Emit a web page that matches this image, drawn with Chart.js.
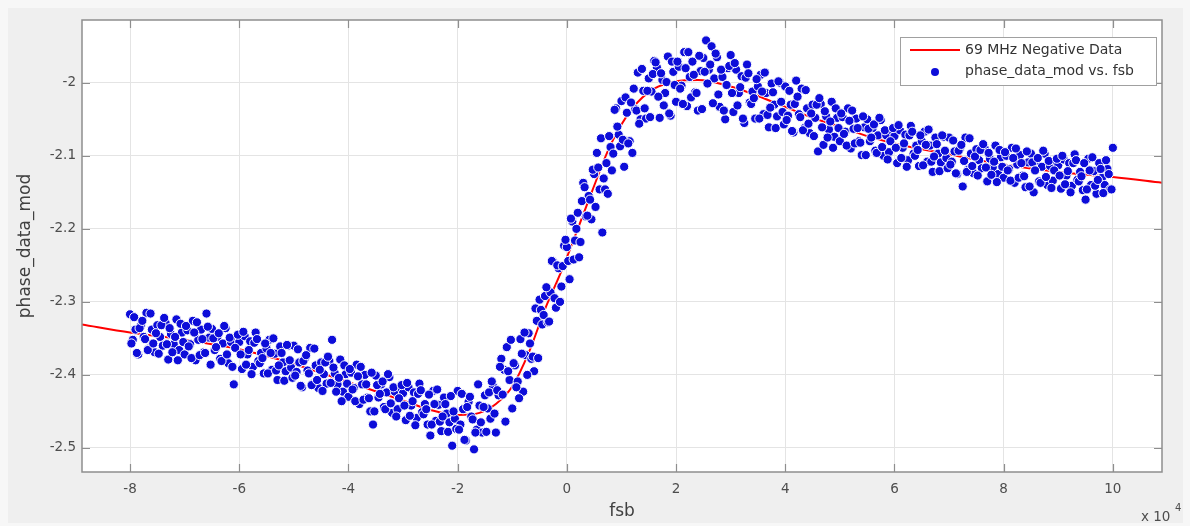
<!DOCTYPE html>
<html lang="en">
<head>
  <meta charset="UTF-8">
  <title>phase_data_mod vs. fsb</title>
  <script src="https://cdn.jsdelivr.net/npm/chart.js"></script>
  <style>
    * { box-sizing: border-box; margin: 0; padding: 0; }
    body { background: #f7f7f7; width: 1190px; height: 526px; overflow: hidden; }
    .wrap { position: relative; width: 1190px; height: 526px; }
  </style>
</head>
<body>
  <div class="wrap"><canvas id="plot"></canvas></div>
  <script>
    // fsb in units of 10^4 (axis shows "x 10^4"), sweep A
    const fsb = [
      -8, -7.95, -7.9, -7.85, -7.8, -7.75, -7.7, -7.65, -7.6, -7.55, -7.5, -7.45, -7.4, -7.35, -7.3, -7.25, -7.2, -7.15, -7.1, -7.05,
      -7, -6.95, -6.9, -6.85, -6.8, -6.75, -6.7, -6.65, -6.6, -6.55, -6.5, -6.45, -6.4, -6.35, -6.3, -6.25, -6.2, -6.15, -6.1, -6.05,
      -6, -5.95, -5.9, -5.85, -5.8, -5.75, -5.7, -5.65, -5.6, -5.55, -5.5, -5.45, -5.4, -5.35, -5.3, -5.25, -5.2, -5.15, -5.1, -5.05,
      -5, -4.95, -4.9, -4.85, -4.8, -4.75, -4.7, -4.65, -4.6, -4.55, -4.5, -4.45, -4.4, -4.35, -4.3, -4.25, -4.2, -4.15, -4.1, -4.05,
      -4, -3.95, -3.9, -3.85, -3.8, -3.75, -3.7, -3.65, -3.6, -3.55, -3.5, -3.45, -3.4, -3.35, -3.3, -3.25, -3.2, -3.15, -3.1, -3.05,
      -3, -2.95, -2.9, -2.85, -2.8, -2.75, -2.7, -2.65, -2.6, -2.55, -2.5, -2.45, -2.4, -2.35, -2.3, -2.25, -2.2, -2.15, -2.1, -2.05,
      -2, -1.95, -1.9, -1.85, -1.8, -1.75, -1.7, -1.65, -1.6, -1.55, -1.5, -1.45, -1.4, -1.35, -1.3, -1.25, -1.2, -1.15, -1.1, -1.05,
      -1, -0.95, -0.9, -0.85, -0.8, -0.75, -0.7, -0.65, -0.6, -0.55, -0.5, -0.45, -0.4, -0.35, -0.3, -0.25, -0.2, -0.15, -0.1, -0.05,
      0, 0.05, 0.1, 0.15, 0.2, 0.25, 0.3, 0.35, 0.4, 0.45, 0.5, 0.55, 0.6, 0.65, 0.7, 0.75, 0.8, 0.85, 0.9, 0.95,
      1, 1.05, 1.1, 1.15, 1.2, 1.25, 1.3, 1.35, 1.4, 1.45, 1.5, 1.55, 1.6, 1.65, 1.7, 1.75, 1.8, 1.85, 1.9, 1.95,
      2, 2.05, 2.1, 2.15, 2.2, 2.25, 2.3, 2.35, 2.4, 2.45, 2.5, 2.55, 2.6, 2.65, 2.7, 2.75, 2.8, 2.85, 2.9, 2.95,
      3, 3.05, 3.1, 3.15, 3.2, 3.25, 3.3, 3.35, 3.4, 3.45, 3.5, 3.55, 3.6, 3.65, 3.7, 3.75, 3.8, 3.85, 3.9, 3.95,
      4, 4.05, 4.1, 4.15, 4.2, 4.25, 4.3, 4.35, 4.4, 4.45, 4.5, 4.55, 4.6, 4.65, 4.7, 4.75, 4.8, 4.85, 4.9, 4.95,
      5, 5.05, 5.1, 5.15, 5.2, 5.25, 5.3, 5.35, 5.4, 5.45, 5.5, 5.55, 5.6, 5.65, 5.7, 5.75, 5.8, 5.85, 5.9, 5.95,
      6, 6.05, 6.1, 6.15, 6.2, 6.25, 6.3, 6.35, 6.4, 6.45, 6.5, 6.55, 6.6, 6.65, 6.7, 6.75, 6.8, 6.85, 6.9, 6.95,
      7, 7.05, 7.1, 7.15, 7.2, 7.25, 7.3, 7.35, 7.4, 7.45, 7.5, 7.55, 7.6, 7.65, 7.7, 7.75, 7.8, 7.85, 7.9, 7.95,
      8, 8.05, 8.1, 8.15, 8.2, 8.25, 8.3, 8.35, 8.4, 8.45, 8.5, 8.55, 8.6, 8.65, 8.7, 8.75, 8.8, 8.85, 8.9, 8.95,
      9, 9.05, 9.1, 9.15, 9.2, 9.25, 9.3, 9.35, 9.4, 9.45, 9.5, 9.55, 9.6, 9.65, 9.7, 9.75, 9.8, 9.85, 9.9, 9.95,
      10
    ];
    const phaseDataMod = [
      -2.317, -2.352, -2.338, -2.372, -2.332, -2.348, -2.315, -2.364, -2.338, -2.369, -2.332, -2.348, -2.360, -2.329, -2.379, -2.344, -2.358, -2.324, -2.366, -2.342,
      -2.372, -2.339, -2.358, -2.326, -2.380, -2.352, -2.338, -2.369, -2.316, -2.349, -2.337, -2.366, -2.348, -2.378, -2.357, -2.336, -2.384, -2.355, -2.413, -2.347,
      -2.355, -2.392, -2.347, -2.372, -2.354, -2.389, -2.342, -2.381, -2.370, -2.398, -2.364, -2.352, -2.393, -2.371, -2.407, -2.361, -2.383, -2.395, -2.360, -2.390,
      -2.360, -2.396, -2.383, -2.417, -2.378, -2.394, -2.363, -2.412, -2.387, -2.418, -2.383, -2.399, -2.412, -2.381, -2.352, -2.398, -2.413, -2.379, -2.423, -2.399,
      -2.430, -2.397, -2.418, -2.386, -2.440, -2.413, -2.400, -2.431, -2.450, -2.468, -2.401, -2.431, -2.413, -2.444, -2.424, -2.403, -2.452, -2.423, -2.447, -2.417,
      -2.425, -2.462, -2.417, -2.442, -2.424, -2.459, -2.412, -2.451, -2.440, -2.468, -2.483, -2.422, -2.463, -2.441, -2.477, -2.431, -2.453, -2.465, -2.497, -2.460,
      -2.422, -2.468, -2.447, -2.490, -2.437, -2.457, -2.502, -2.475, -2.442, -2.479, -2.428, -2.446, -2.460, -2.416, -2.479, -2.428, -2.378, -2.393, -2.362, -2.407,
      -2.446, -2.387, -2.409, -2.351, -2.423, -2.373, -2.343, -2.378, -2.395, -2.326, -2.297, -2.331, -2.292, -2.328, -2.287, -2.245, -2.308, -2.254, -2.279, -2.223,
      -2.225, -2.269, -2.190, -2.216, -2.178, -2.218, -2.137, -2.183, -2.155, -2.187, -2.125, -2.096, -2.146, -2.205, -2.146, -2.152, -2.088, -2.097, -2.035, -2.071,
      -2.025, -2.115, -2.041, -2.080, -2.096, -2.036, -1.986, -2.050, -2.011, -2.049, -1.994, -2.012, -1.970, -1.979, -2.048, -1.996, -2.014, -1.964, -2.045, -1.985,
      -2.026, -1.978, -2.004, -1.958, -2.032, -1.992, -1.971, -2.013, -2.038, -1.984, -1.966, -1.942, -1.982, -1.950, -1.994, -1.965, -2.033, -1.992, -2.050, -1.980,
      -1.962, -2.040, -1.982, -2.014, -1.991, -2.055, -1.975, -2.027, -2.012, -2.049, -2.005, -1.989, -2.043, -2.014, -2.061, -2.001, -2.030, -2.046, -2.000, -2.040,
      -2.005, -2.045, -2.030, -2.068, -1.997, -2.043, -2.008, -2.062, -2.035, -2.069, -2.030, -2.048, -2.094, -2.029, -2.085, -2.046, -2.064, -2.026, -2.074, -2.048,
      -2.080, -2.047, -2.067, -2.035, -2.090, -2.063, -2.049, -2.080, -2.099, -2.061, -2.050, -2.080, -2.062, -2.093, -2.072, -2.051, -2.100, -2.072, -2.095, -2.065,
      -2.073, -2.110, -2.065, -2.089, -2.071, -2.106, -2.059, -2.097, -2.086, -2.114, -2.080, -2.067, -2.108, -2.086, -2.122, -2.075, -2.097, -2.109, -2.074, -2.103,
      -2.075, -2.108, -2.094, -2.125, -2.090, -2.142, -2.075, -2.119, -2.097, -2.124, -2.091, -2.106, -2.117, -2.089, -2.135, -2.104, -2.116, -2.086, -2.125, -2.102,
      -2.130, -2.100, -2.118, -2.089, -2.137, -2.112, -2.099, -2.127, -2.143, -2.109, -2.097, -2.150, -2.107, -2.135, -2.115, -2.097, -2.140, -2.114, -2.134, -2.107,
      -2.113, -2.145, -2.105, -2.127, -2.110, -2.141, -2.098, -2.133, -2.122, -2.147, -2.160, -2.104, -2.140, -2.121, -2.152, -2.110, -2.130, -2.140, -2.118, -2.146,
      -2.089
    ];

    // sweep B, interleaved with sweep A
    const fsbB = [
      -7.975, -7.925, -7.875, -7.825, -7.775, -7.725, -7.675, -7.625, -7.575, -7.525, -7.475, -7.425, -7.375, -7.325, -7.275, -7.225, -7.175, -7.125, -7.075, -7.025,
      -6.975, -6.925, -6.875, -6.825, -6.775, -6.725, -6.675, -6.625, -6.575, -6.525, -6.475, -6.425, -6.375, -6.325, -6.275, -6.225, -6.175, -6.125, -6.075, -6.025,
      -5.975, -5.925, -5.875, -5.825, -5.775, -5.725, -5.675, -5.625, -5.575, -5.525, -5.475, -5.425, -5.375, -5.325, -5.275, -5.225, -5.175, -5.125, -5.075, -5.025,
      -4.975, -4.925, -4.875, -4.825, -4.775, -4.725, -4.675, -4.625, -4.575, -4.525, -4.475, -4.425, -4.375, -4.325, -4.275, -4.225, -4.175, -4.125, -4.075, -4.025,
      -3.975, -3.925, -3.875, -3.825, -3.775, -3.725, -3.675, -3.625, -3.575, -3.525, -3.475, -3.425, -3.375, -3.325, -3.275, -3.225, -3.175, -3.125, -3.075, -3.025,
      -2.975, -2.925, -2.875, -2.825, -2.775, -2.725, -2.675, -2.625, -2.575, -2.525, -2.475, -2.425, -2.375, -2.325, -2.275, -2.225, -2.175, -2.125, -2.075, -2.025,
      -1.975, -1.925, -1.875, -1.825, -1.775, -1.725, -1.675, -1.625, -1.575, -1.525, -1.475, -1.425, -1.375, -1.325, -1.275, -1.225, -1.175, -1.125, -1.075, -1.025,
      -0.975, -0.925, -0.875, -0.825, -0.775, -0.725, -0.675, -0.625, -0.575, -0.525, -0.475, -0.425, -0.375, -0.325, -0.275, -0.225, -0.175, -0.125, -0.075, -0.025,
      0.025, 0.075, 0.125, 0.175, 0.225, 0.275, 0.325, 0.375, 0.425, 0.475, 0.525, 0.575, 0.625, 0.675, 0.725, 0.775, 0.825, 0.875, 0.925, 0.975,
      1.025, 1.075, 1.125, 1.175, 1.225, 1.275, 1.325, 1.375, 1.425, 1.475, 1.525, 1.575, 1.625, 1.675, 1.725, 1.775, 1.825, 1.875, 1.925, 1.975,
      2.025, 2.075, 2.125, 2.175, 2.225, 2.275, 2.325, 2.375, 2.425, 2.475, 2.525, 2.575, 2.625, 2.675, 2.725, 2.775, 2.825, 2.875, 2.925, 2.975,
      3.025, 3.075, 3.125, 3.175, 3.225, 3.275, 3.325, 3.375, 3.425, 3.475, 3.525, 3.575, 3.625, 3.675, 3.725, 3.775, 3.825, 3.875, 3.925, 3.975,
      4.025, 4.075, 4.125, 4.175, 4.225, 4.275, 4.325, 4.375, 4.425, 4.475, 4.525, 4.575, 4.625, 4.675, 4.725, 4.775, 4.825, 4.875, 4.925, 4.975,
      5.025, 5.075, 5.125, 5.175, 5.225, 5.275, 5.325, 5.375, 5.425, 5.475, 5.525, 5.575, 5.625, 5.675, 5.725, 5.775, 5.825, 5.875, 5.925, 5.975,
      6.025, 6.075, 6.125, 6.175, 6.225, 6.275, 6.325, 6.375, 6.425, 6.475, 6.525, 6.575, 6.625, 6.675, 6.725, 6.775, 6.825, 6.875, 6.925, 6.975,
      7.025, 7.075, 7.125, 7.175, 7.225, 7.275, 7.325, 7.375, 7.425, 7.475, 7.525, 7.575, 7.625, 7.675, 7.725, 7.775, 7.825, 7.875, 7.925, 7.975,
      8.025, 8.075, 8.125, 8.175, 8.225, 8.275, 8.325, 8.375, 8.425, 8.475, 8.525, 8.575, 8.625, 8.675, 8.725, 8.775, 8.825, 8.875, 8.925, 8.975,
      9.025, 9.075, 9.125, 9.175, 9.225, 9.275, 9.325, 9.375, 9.425, 9.475, 9.525, 9.575, 9.625, 9.675, 9.725, 9.775, 9.825, 9.875, 9.925, 9.975
    ];
    const phaseDataModB = [
      -2.357, -2.321, -2.370, -2.336, -2.326, -2.351, -2.366, -2.316, -2.357, -2.343, -2.371, -2.332, -2.322, -2.358, -2.336, -2.369, -2.348, -2.380, -2.330, -2.355,
      -2.333, -2.361, -2.377, -2.342, -2.328, -2.373, -2.351, -2.370, -2.334, -2.386, -2.350, -2.362, -2.343, -2.381, -2.333, -2.372, -2.349, -2.389, -2.363, -2.345,
      -2.372, -2.341, -2.386, -2.366, -2.399, -2.356, -2.351, -2.384, -2.377, -2.357, -2.398, -2.370, -2.350, -2.394, -2.387, -2.370, -2.408, -2.359, -2.380, -2.404,
      -2.401, -2.365, -2.415, -2.381, -2.373, -2.398, -2.414, -2.364, -2.407, -2.393, -2.422, -2.383, -2.375, -2.411, -2.390, -2.423, -2.404, -2.436, -2.387, -2.412,
      -2.392, -2.420, -2.436, -2.402, -2.389, -2.434, -2.413, -2.432, -2.397, -2.450, -2.414, -2.426, -2.409, -2.447, -2.399, -2.439, -2.417, -2.457, -2.432, -2.414,
      -2.442, -2.411, -2.456, -2.436, -2.469, -2.426, -2.421, -2.454, -2.447, -2.427, -2.468, -2.440, -2.420, -2.464, -2.457, -2.440, -2.478, -2.429, -2.450, -2.474,
      -2.475, -2.426, -2.489, -2.444, -2.430, -2.461, -2.479, -2.413, -2.465, -2.444, -2.478, -2.424, -2.409, -2.453, -2.421, -2.389, -2.427, -2.464, -2.395, -2.352,
      -2.384, -2.417, -2.432, -2.371, -2.342, -2.400, -2.357, -2.375, -2.309, -2.377, -2.311, -2.318, -2.280, -2.327, -2.244, -2.295, -2.250, -2.300, -2.251, -2.215,
      -2.244, -2.186, -2.242, -2.200, -2.239, -2.162, -2.143, -2.182, -2.160, -2.119, -2.170, -2.116, -2.076, -2.131, -2.110, -2.073, -2.120, -2.037, -2.060, -2.087,
      -2.078, -2.020, -2.083, -2.027, -2.008, -2.038, -2.056, -1.981, -2.035, -2.011, -2.047, -1.988, -1.972, -2.019, -1.987, -2.031, -1.999, -2.042, -1.971, -2.003,
      -1.971, -2.008, -2.029, -1.980, -1.958, -2.020, -1.989, -2.014, -1.963, -2.036, -1.985, -2.001, -1.975, -2.028, -1.960, -2.016, -1.982, -2.038, -2.003, -1.977,
      -2.014, -1.973, -2.031, -2.006, -2.049, -1.993, -1.987, -2.029, -2.021, -1.995, -2.049, -2.012, -1.986, -2.044, -2.034, -2.013, -2.062, -1.998, -2.026, -2.057,
      -2.051, -2.011, -2.066, -2.029, -2.019, -2.047, -2.065, -2.010, -2.056, -2.042, -2.073, -2.030, -2.021, -2.061, -2.039, -2.075, -2.053, -2.089, -2.035, -2.062,
      -2.042, -2.070, -2.086, -2.052, -2.038, -2.083, -2.062, -2.082, -2.046, -2.099, -2.063, -2.075, -2.057, -2.096, -2.048, -2.088, -2.065, -2.105, -2.080, -2.062,
      -2.089, -2.058, -2.103, -2.083, -2.115, -2.072, -2.067, -2.100, -2.092, -2.072, -2.113, -2.085, -2.064, -2.108, -2.101, -2.084, -2.121, -2.072, -2.093, -2.117,
      -2.112, -2.079, -2.124, -2.093, -2.085, -2.107, -2.122, -2.076, -2.114, -2.101, -2.127, -2.092, -2.084, -2.116, -2.096, -2.126, -2.108, -2.136, -2.092, -2.115,
      -2.095, -2.120, -2.134, -2.103, -2.090, -2.130, -2.110, -2.128, -2.094, -2.142, -2.109, -2.120, -2.103, -2.137, -2.093, -2.129, -2.107, -2.144, -2.120, -2.104,
      -2.127, -2.100, -2.139, -2.121, -2.150, -2.110, -2.106, -2.135, -2.128, -2.110, -2.146, -2.120, -2.102, -2.141, -2.133, -2.118, -2.151, -2.106, -2.125, -2.146
    ];

    // red fit curve "69 MHz Negative Data"
    const fitFsb = [-8.88, -8, -7, -6, -5, -4, -3, -2.5, -2, -1.6, -1.3, -1.0, -0.7, -0.4, -0.1, 0.2, 0.5, 0.8, 1.2, 1.6,
                    2.0, 2.4, 3.0, 3.5, 4.0, 4.5, 5, 5.5, 6, 7, 8, 9, 10, 10.9];
    const fitPhase = [-2.331, -2.342, -2.352, -2.365, -2.385, -2.41, -2.435, -2.448, -2.455, -2.452, -2.44, -2.416, -2.37, -2.31, -2.258, -2.20, -2.141, -2.085, -2.035, -2.008,
                      -1.998, -1.996, -2.005, -2.018, -2.033, -2.048, -2.06, -2.073, -2.083, -2.098, -2.112, -2.122, -2.129, -2.137];

    const xTicks = [-8, -6, -4, -2, 0, 2, 4, 6, 8, 10];
    const yTicks = [-2.5, -2.4, -2.3, -2.2, -2.1, -2];

    const FONT = "'DejaVu Sans', 'Noto Sans', sans-serif";
    const FRAME = '#8e8e8e';

    // MATLAB-like figure: grey surround, boxed axes with inward ticks, legend, labels
    const matlabFrame = {
      id: 'matlabFrame',
      beforeDraw(chart) {
        const { ctx, chartArea: a } = chart;
        ctx.save();
        ctx.fillStyle = '#f7f7f7';
        ctx.fillRect(0, 0, chart.width, chart.height);
        ctx.fillStyle = '#efefef';
        ctx.fillRect(8, 8, 1175, 515);
        ctx.fillStyle = '#ffffff';
        ctx.fillRect(a.left, a.top, a.right - a.left, a.bottom - a.top);
        ctx.restore();
      },
      afterDraw(chart) {
        const { ctx, chartArea: a, scales } = chart;
        ctx.save();
        ctx.strokeStyle = FRAME;
        ctx.lineWidth = 1.5;
        ctx.strokeRect(a.left, a.top, a.right - a.left, a.bottom - a.top);

        ctx.lineWidth = 1.2;
        ctx.beginPath();
        xTicks.forEach(v => {
          const px = Math.round(scales.x.getPixelForValue(v)) + 0.5;
          ctx.moveTo(px, a.bottom); ctx.lineTo(px, a.bottom - 8);
          ctx.moveTo(px, a.top); ctx.lineTo(px, a.top + 8);
        });
        yTicks.forEach(v => {
          const py = Math.round(scales.y.getPixelForValue(v)) + 0.5;
          ctx.moveTo(a.left, py); ctx.lineTo(a.left + 8, py);
          ctx.moveTo(a.right, py); ctx.lineTo(a.right - 8, py);
        });
        ctx.stroke();

        // legend
        ctx.fillStyle = '#ffffff';
        ctx.fillRect(900, 37, 256, 48);
        ctx.strokeStyle = '#a0a0a0';
        ctx.lineWidth = 1;
        ctx.strokeRect(900.5, 37.5, 256, 48);
        ctx.strokeStyle = '#ff0000';
        ctx.lineWidth = 2;
        ctx.beginPath();
        ctx.moveTo(910, 50); ctx.lineTo(960, 50);
        ctx.stroke();
        ctx.fillStyle = '#0d0dd9';
        ctx.beginPath();
        ctx.arc(935, 72, 4, 0, Math.PI * 2);
        ctx.fill();
        ctx.fillStyle = '#333333';
        ctx.font = '14px ' + FONT;
        ctx.textAlign = 'left';
        ctx.textBaseline = 'middle';
        ctx.fillText('69 MHz Negative Data', 965, 50);
        ctx.fillText('phase_data_mod vs. fsb', 965, 71);

        // axis labels
        ctx.fillStyle = '#404040';
        ctx.font = '17px ' + FONT;
        ctx.textAlign = 'center';
        ctx.fillText('fsb', (a.left + a.right) / 2, 512);
        ctx.save();
        ctx.translate(26, (a.top + a.bottom) / 2);
        ctx.rotate(-Math.PI / 2);
        ctx.fillText('phase_data_mod', 0, 0);
        ctx.restore();

        // exponent
        ctx.font = '13.5px ' + FONT;
        ctx.textAlign = 'left';
        ctx.fillStyle = '#4d4d4d';
        ctx.fillText('x 10', 1141, 517);
        ctx.font = '10px ' + FONT;
        ctx.fillText('4', 1175, 508);
        ctx.restore();
      }
    };

    const scatterPts = fsb.map((x, i) => ({ x: x, y: phaseDataMod[i] }))
      .concat(fsbB.map((x, i) => ({ x: x, y: phaseDataModB[i] })));

    new Chart(document.getElementById('plot'), {
      type: 'scatter',
      data: {
        datasets: [
          {
            label: 'phase_data_mod vs. fsb',
            data: scatterPts,
            backgroundColor: '#0d0dd9',
            borderColor: '#ffffff',
            borderWidth: 1,
            pointRadius: 4.6,
            order: 1
          },
          {
            type: 'line',
            label: '69 MHz Negative Data',
            data: fitFsb.map((x, i) => ({ x: x, y: fitPhase[i] })),
            borderColor: '#ff0000',
            borderWidth: 2,
            pointRadius: 0,
            fill: false,
            cubicInterpolationMode: 'monotone',
            order: 2
          }
        ]
      },
      options: {
        responsive: true,
        maintainAspectRatio: false,
        animation: false,
        layout: { padding: { top: 20, right: 28, left: 0, bottom: 0 } },
        plugins: { legend: { display: false }, tooltip: { enabled: false } },
        scales: {
          x: {
            type: 'linear',
            min: -8.88,
            max: 10.9,
            afterBuildTicks: s => { s.ticks = xTicks.map(v => ({ value: v })); },
            afterFit: s => { s.height = 54; },
            grid: { color: '#e4e4e4', drawTicks: false },
            border: { display: false },
            ticks: {
              color: '#4d4d4d',
              font: { family: FONT, size: 13.5 },
              padding: 9,
              maxRotation: 0,
              autoSkip: false,
              callback: v => String(v)
            }
          },
          y: {
            type: 'linear',
            min: -2.533,
            max: -1.914,
            afterBuildTicks: s => { s.ticks = yTicks.map(v => ({ value: v })); },
            afterFit: s => { s.width = 82; },
            grid: { color: '#e4e4e4', drawTicks: false },
            border: { display: false },
            ticks: {
              color: '#4d4d4d',
              font: { family: FONT, size: 13.5 },
              padding: 6,
              autoSkip: false,
              callback: v => String(Math.round(v * 10) / 10)
            }
          }
        }
      },
      plugins: [matlabFrame]
    });
  </script>
</body>
</html>
